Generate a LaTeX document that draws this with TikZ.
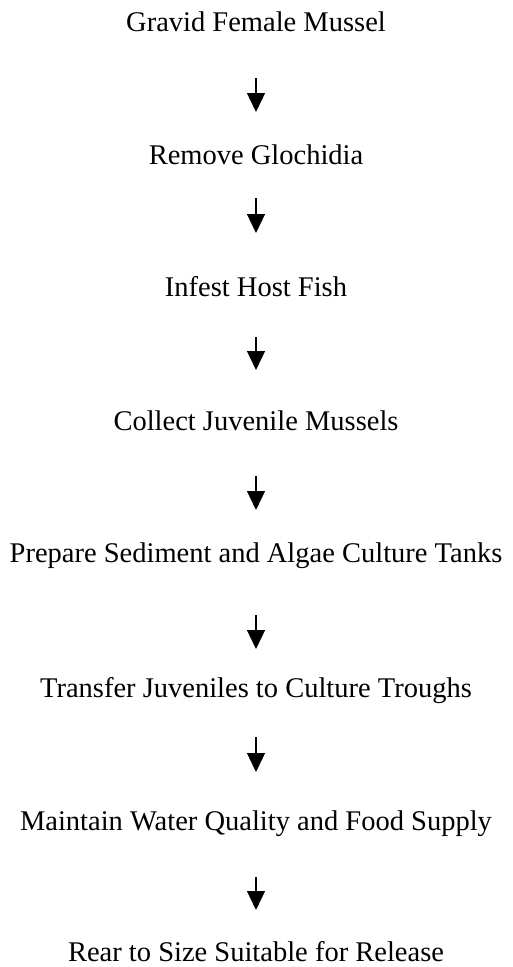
\documentclass[tikz,border=0pt]{standalone}
\usepackage{fontspec}
\setmainfont{Liberation Serif}
\usetikzlibrary{arrows.meta}
\begin{document}
\begin{tikzpicture}[x=1pt,y=1pt,
  label/.style={anchor=base,inner sep=0pt,font=\fontsize{28.5}{34}\selectfont},
  flow/.style={line width=1.3pt,-{Triangle[width=18pt,length=19pt]}}]
\fill[white] (0,0) rectangle (512,-967);
\useasboundingbox (0,0) rectangle (512,-967);
\node[label] (t1) at (256,-31) {Gravid Female Mussel};
\node[label] (t2) at (256,-164) {Remove Glochidia};
\node[label] (t3) at (256,-296) {Infest Host Fish};
\node[label] (t4) at (256,-430) {Collect Juvenile Mussels};
\node[label] (t5) at (256,-562) {Prepare Sediment and Algae Culture Tanks};
\node[label] (t6) at (256,-697) {Transfer Juveniles to Culture Troughs};
\node[label] (t7) at (256,-830) {Maintain Water Quality and Food Supply};
\node[label] (t8) at (256,-961) {Rear to Size Suitable for Release};
\coordinate (s1) at (256,-78);  \coordinate (e1) at (256,-112);
\coordinate (s2) at (256,-198); \coordinate (e2) at (256,-233);
\coordinate (s3) at (256,-337); \coordinate (e3) at (256,-370);
\coordinate (s4) at (256,-476); \coordinate (e4) at (256,-510);
\coordinate (s5) at (256,-615); \coordinate (e5) at (256,-649);
\coordinate (s6) at (256,-737); \coordinate (e6) at (256,-772);
\coordinate (s7) at (256,-877); \coordinate (e7) at (256,-910);
\foreach \i in {1,...,7} \draw[flow] (s\i) -- (e\i);
\end{tikzpicture}
\end{document}
